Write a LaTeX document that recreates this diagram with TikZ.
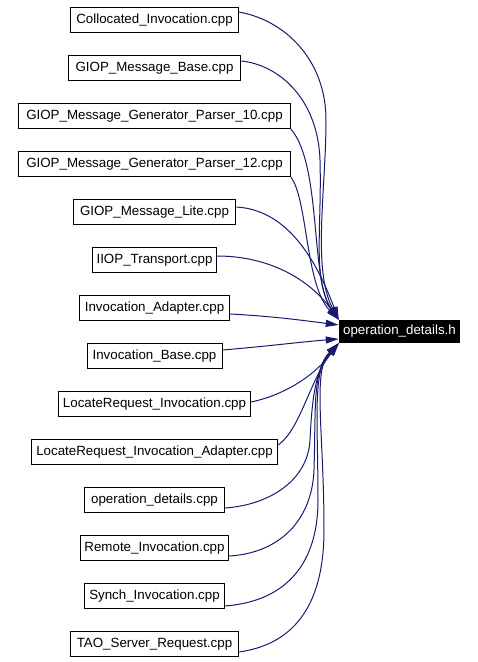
\documentclass[tikz,border=0pt]{standalone}
\usepackage{fontspec}
\setmainfont{Liberation Sans}
\usetikzlibrary{arrows.meta}
\definecolor{edgeblue}{RGB}{25,25,112}
\begin{document}
\begin{tikzpicture}[x=0.75pt,y=-0.75pt,
  file/.style={draw=black, line width=0.75pt, fill=white, minimum height=18.75pt,
    inner xsep=2pt, inner ysep=0pt, font=\fontsize{10}{12}\selectfont},
  target/.style={fill=black, text=white, minimum height=17.25pt, minimum width=90.75pt,
    inner sep=0pt, font=\fontsize{10}{12}\selectfont},
  edge/.style={draw=edgeblue, line width=0.75pt, -{Triangle[length=9.75pt,width=5.25pt]}}]
\useasboundingbox (0,0) rectangle (478,662);

\node[file, minimum width=125.55pt] (n1) at (154.5,20) {Collocated\_Invocation.cpp};
\node[file, minimum width=129.5pt] (n2) at (154.5,68) {GIOP\_Message\_Base.cpp};
\node[file, minimum width=203.8pt] (n3) at (154.5,116) {GIOP\_Message\_Generator\_Parser\_10.cpp};
\node[file, minimum width=203.8pt] (n4) at (154.5,164) {GIOP\_Message\_Generator\_Parser\_12.cpp};
\node[file, minimum width=122pt] (n5) at (154.5,212) {GIOP\_Message\_Lite.cpp};
\node[file, minimum width=93pt] (n6) at (154.5,260) {IIOP\_Transport.cpp};
\node[file, minimum width=112pt] (n7) at (154.5,308) {Invocation\_Adapter.cpp};
\node[file, minimum width=101.25pt] (n8) at (154.5,356) {Invocation\_Base.cpp};
\node[file, minimum width=144pt] (n9) at (154.5,404) {LocateRequest\_Invocation.cpp};
\node[file, minimum width=184.7pt] (n10) at (154.5,452) {LocateRequest\_Invocation\_Adapter.cpp};
\node[file, minimum width=104.5pt] (n11) at (154.5,500) {operation\_details.cpp};
\node[file, minimum width=111.3pt] (n12) at (154.5,548) {Remote\_Invocation.cpp};
\node[file, minimum width=104.5pt] (n13) at (154.5,596) {Synch\_Invocation.cpp};
\node[file, minimum width=125.55pt] (n14) at (154.5,644) {TAO\_Server\_Request.cpp};

\node[target] (t) at (399.5,331.5) {operation\_details.h};

\draw[edge] ([yshift=6pt]n1.east) .. controls (285,20) and (326,60) .. (326,120)
  .. controls (326,190) and (312,270) .. (t.north west);
\draw[edge] ([yshift=5.25pt]n2.east) .. controls (280,65) and (318,100) .. (320,160)
  .. controls (322,230) and (312,280) .. (t.north west);
\draw[edge] (n3.south east) .. controls (322,165) and (310,280) .. (t.north west);
\draw[edge] (n4.south east) .. controls (308,200) and (305,285) .. (t.north west);
\draw[edge] ([yshift=3.75pt]n5.east) .. controls (290,210) and (318,265) .. (t.north west);
\draw[edge] ([yshift=3pt]n6.east) .. controls (270,256) and (310,280) .. (t.north west);
\draw[edge] ([yshift=-4.5pt]n7.east) .. controls (270,316) and (300,320) .. ([yshift=4.9pt]t.west);
\draw[edge] ([yshift=4.5pt]n8.east) .. controls (270,346) and (300,342) .. ([yshift=-5.6pt]t.west);
\draw[edge] ([yshift=1.5pt]n9.east) .. controls (285,395) and (315,375) .. (t.south west);
\draw[edge] ([yshift=5.25pt]n10.east) .. controls (300,430) and (310,380) .. (t.south west);
\draw[edge] ([yshift=-6pt]n11.east) .. controls (270,505) and (308,480) .. (310,440)
  .. controls (312,400) and (315,370) .. (t.south west);
\draw[edge] ([yshift=-6pt]n12.east) .. controls (280,553) and (312,520) .. (314,470)
  .. controls (316,410) and (312,370) .. (t.south west);
\draw[edge] ([yshift=-7.5pt]n13.east) .. controls (280,602) and (318,570) .. (318,500)
  .. controls (318,420) and (312,370) .. (t.south west);
\draw[edge] ([yshift=-6pt]n14.east) .. controls (290,645) and (324,610) .. (324,530)
  .. controls (324,430) and (312,370) .. (t.south west);
\end{tikzpicture}
\end{document}
